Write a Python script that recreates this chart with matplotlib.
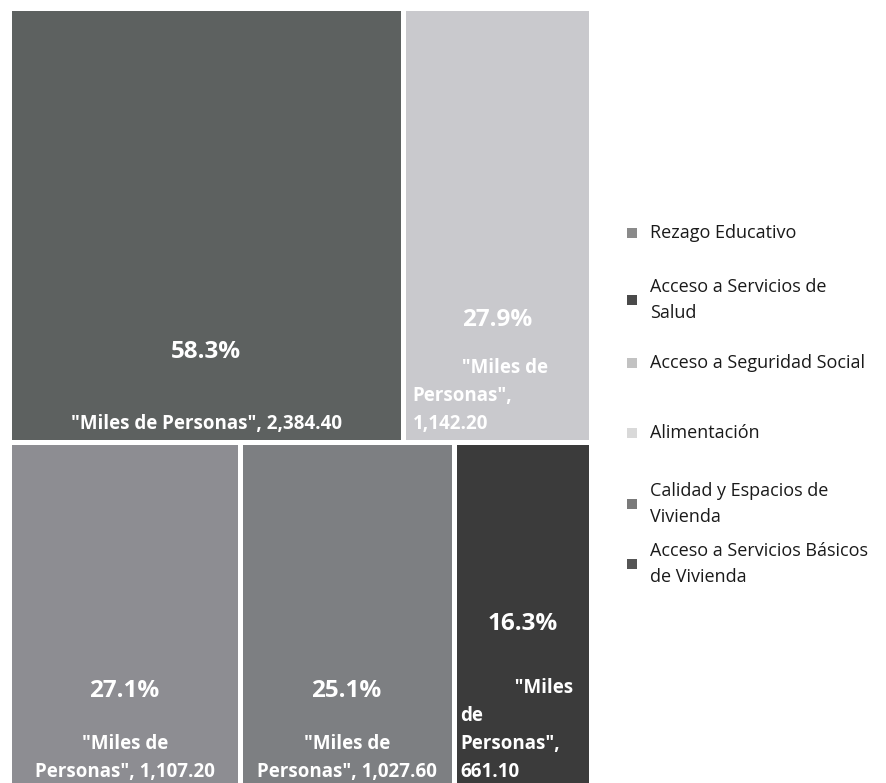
import matplotlib
matplotlib.use("Agg")
import matplotlib.pyplot as plt
from matplotlib.patches import Rectangle

# ---- data ----
values = [2384.40, 1142.20, 1107.20, 1027.60, 661.10]
percents = ["58.3%", "27.9%", "27.1%", "25.1%", "16.3%"]
value_labels = [
    '"Miles de Personas", 2,384.40',
    '          "Miles de\nPersonas",\n1,142.20',
    '"Miles de\nPersonas", 1,107.20',
    '"Miles de\nPersonas", 1,027.60',
    '           "Miles\nde\nPersonas",\n661.10',
]
box_colors = ["#5d6160", "#c9c9cd", "#8d8d92", "#7d7f82", "#3b3b3b"]
label_align = ["center", "left", "center", "center", "left"]
row_split = 2  # first two boxes in the top row

legend_labels = [
    "Rezago Educativo",
    "Acceso a Servicios de\nSalud",
    "Acceso a Seguridad Social",
    "Alimentación",
    "Calidad y Espacios de\nVivienda",
    "Acceso a Servicios Básicos\nde Vivienda",
]
legend_colors = ["#8a8a8a", "#4a4a4a", "#c2c2c2", "#d9d9d9", "#7a7a7a", "#555555"]

# ---- figure ----
W, H = 887, 783
fig = plt.figure(figsize=(W / 100, H / 100), dpi=100)
fig.patch.set_facecolor("white")

def px(x, y):
    return x / W, 1 - y / H

left, right, top, bottom = 9.5, 591, 7.5, 787
ax = fig.add_axes([left / W, 1 - bottom / H, (right - left) / W, (bottom - top) / H])
ax.set_xlim(0, 1)
ax.set_ylim(0, 1)
ax.axis("off")

total = sum(values)
rows = [list(range(0, row_split)), list(range(row_split, len(values)))]
y_top = 1.0
rects = []
for row in rows:
    row_sum = sum(values[i] for i in row)
    h = row_sum / total
    x = 0.0
    for i in row:
        w = values[i] / row_sum
        rects.append((i, x, y_top - h, w, h))
        x += w
    y_top -= h

FONT = "Open Sans"
pct_rise_px = [90, 122, 96, 96, 163]   # height of % label above box bottom
label_pad_px = [8, 8, 5, 5, 5]         # gap under the value label block
left_pad_px = [0, 10, 0, 0, 7]
for i, x, y, w, h in rects:
    ax.add_patch(Rectangle((x, y), w, h, facecolor=box_colors[i],
                           edgecolor="white", linewidth=3.6))
    if label_align[i] == "center":
        xy, ha = (x + w / 2, y), "center"
    else:
        xy, ha = (x, y), "left"
    ax.annotate(value_labels[i], xy=xy,
                xytext=(left_pad_px[i] * 0.72, label_pad_px[i] * 0.72),
                textcoords="offset points", ha=ha, va="bottom",
                multialignment=label_align[i], color="white",
                fontsize=13.5, fontweight="bold", family=FONT,
                linespacing=1.53)
    ax.annotate(percents[i], xy=(x + w / 2, y), xytext=(0, pct_rise_px[i] * 0.72),
                textcoords="offset points", ha="center", va="center",
                color="white", fontsize=17.5, fontweight="bold", family=FONT)

# ---- legend ----
leg_y = [233, 300, 363, 433, 504, 564]
for lab, col, yy in zip(legend_labels, legend_colors, leg_y):
    fig.patches.append(Rectangle(px(627, yy + 5), 10 / W, 10 / H, facecolor=col,
                                 edgecolor="none", transform=fig.transFigure,
                                 figure=fig))
    fig.text(*px(650, yy), lab, ha="left", va="center", fontsize=13,
             family=FONT, color="#1a1a1a", linespacing=1.5)

fig.savefig("out.png", dpi=100, facecolor="white")
